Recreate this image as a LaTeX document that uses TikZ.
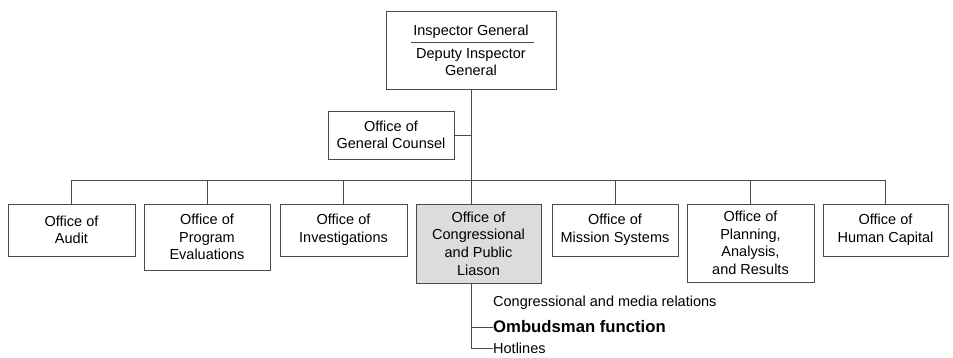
\documentclass[tikz,border=0pt]{standalone}
\usepackage{fontspec}
\setmainfont{Liberation Sans}
\definecolor{ln}{HTML}{4A4A4A}
\definecolor{gfill}{HTML}{DCDCDC}
\begin{document}
\begin{tikzpicture}[x=1pt,y=-1pt,
  box/.style={draw=ln,line width=0.9pt,fill=white,align=center,inner sep=0pt,
     font=\fontsize{14.5}{17.6}\selectfont,text=black},
  lbl/.style={font=\fontsize{14.5}{17.6}\selectfont,inner sep=0pt,anchor=west},
  conn/.style={draw=ln,line width=0.9pt}]
\useasboundingbox (0,0) rectangle (953,358);
% top box
\node[box,minimum width=170pt,minimum height=78pt] (ig) at (471,50) {};
\node[lbl,anchor=center] (igt) at (471,32) {Inspector General};
\node[lbl,anchor=center,align=center] (dig) at (471,62) {Deputy Inspector\\General};
\coordinate (rl) at (411,42);
\coordinate (rr) at (534,42);
\draw[conn] (rl) -- (rr);
% general counsel
\node[box,minimum width=126pt,minimum height=48pt] (gc) at (391,135) {Office of\\General Counsel};
% offices
\node[box,minimum width=127pt,minimum height=52pt] (b1) at (71.5,230) {Office of\\Audit};
\node[box,minimum width=126pt,minimum height=66pt] (b2) at (207,237) {Office of\\Program\\Evaluations};
\node[box,minimum width=127pt,minimum height=52pt] (b3) at (343.5,230) {Office of\\Investigations};
\node[box,fill=gfill,minimum width=125pt,minimum height=79pt] (b4) at (478.5,243.5) {Office of\\Congressional\\and Public\\Liason};
\node[box,minimum width=126pt,minimum height=52pt] (b5) at (615,230) {Office of\\Mission Systems};
\node[box,minimum width=127pt,minimum height=78pt] (b6) at (750.5,243) {Office of\\Planning,\\Analysis,\\and Results};
\node[box,minimum width=125pt,minimum height=52pt] (b7) at (885.5,230) {Office of\\Human Capital};
% connectors
\coordinate (bus) at (471,180);
\draw[conn] (ig.south) -- (bus);
\draw[conn] (gc.east) -- (gc.east -| ig.south);
\draw[conn] (b1.north |- bus) -- (b7.north |- bus);
\foreach \b in {b1,b2,b3,b5,b6,b7} \draw[conn] (\b.north |- bus) -- (\b.north);
\draw[conn] (bus) -- (bus |- b4.north);
% sub functions
\coordinate (sv) at (471,283);
\node[lbl] (t1) at (493,303) {Congressional and media relations};
\node[lbl,font=\fontsize{16.7}{18}\selectfont\bfseries] (t2) at (493,327) {Ombudsman function};
\node[lbl] (t3) at (493,348) {Hotlines};
\draw[conn] (sv) -- (sv |- t3.west) -- (t3.west);
\draw[conn] (sv |- t2.west) -- (t2.west);
\end{tikzpicture}
\end{document}
